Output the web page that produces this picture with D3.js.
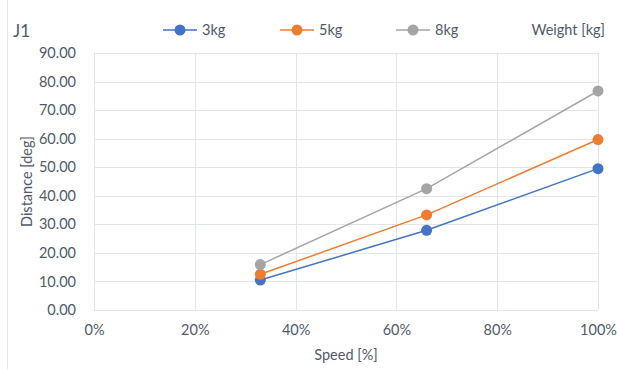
<!DOCTYPE html>
<html>
<head>
<meta charset="utf-8">
<script src="https://cdn.jsdelivr.net/npm/d3@7"></script>
<style>
  html, body { margin: 0; padding: 0; background: #fff; }
  svg { display: block; font-family: Lato, "Open Sans", sans-serif; }
</style>
</head>
<body>
<div id="chart"></div>
<script>
const speeds = [33, 66, 100];
const seriesNames = ['3kg', '5kg', '8kg'];
const kg3 = [10.5, 27.9, 49.5];
const kg5 = [12.5, 33.3, 59.7];
const kg8 = [15.9, 42.5, 76.7];
const seriesColors = ['#4472C4', '#ED7D31', '#A5A5A5'];
const yTicks = [0, 10, 20, 30, 40, 50, 60, 70, 80, 90];
const xTicks = [0, 20, 40, 60, 80, 100];

const series = [kg3, kg5, kg8].map((vals, i) => ({
  name: seriesNames[i], color: seriesColors[i],
  pts: vals.map((v, j) => ({ x: speeds[j], y: v }))
}));

const W = 617, H = 369;
const m = { top: 53, right: 19, bottom: 59, left: 94 };
const TXT = '#4f5a6a', GRID = '#e1e5ec';

const svg = d3.select('#chart').append('svg').attr('width', W).attr('height', H);
const x = d3.scaleLinear().domain([0, 100]).range([m.left, W - m.right]);
const y = d3.scaleLinear().domain([0, 90]).range([H - m.bottom, m.top]);

// outer chart border (left edge visible)
svg.append('line').attr('x1', 7.5).attr('x2', 7.5).attr('y1', 0).attr('y2', H)
  .attr('stroke', '#e3e6ea').attr('stroke-width', 1);

// gridlines
svg.append('g').selectAll('line').data(yTicks).join('line')
  .attr('x1', m.left).attr('x2', W - m.right)
  .attr('y1', d => Math.round(y(d)) + 0.5).attr('y2', d => Math.round(y(d)) + 0.5)
  .attr('stroke', GRID).attr('stroke-width', 1);
svg.append('g').selectAll('line').data(xTicks).join('line')
  .attr('y1', m.top).attr('y2', H - m.bottom)
  .attr('x1', d => Math.round(x(d)) + 0.5).attr('x2', d => Math.round(x(d)) + 0.5)
  .attr('stroke', GRID).attr('stroke-width', 1);

// axes labels
const yAxis = svg.append('g').attr('transform', `translate(${m.left - 15},0)`)
  .call(d3.axisLeft(y).tickValues(yTicks).tickFormat(d3.format('.2f')).tickSize(0));
yAxis.select('.domain').remove();
yAxis.selectAll('text').attr('fill', TXT).attr('font-size', 14.5).attr('font-family', 'Lato, sans-serif');

const xAxis = svg.append('g').attr('transform', `translate(0,${H - m.bottom + 12})`)
  .call(d3.axisBottom(x).tickValues(xTicks).tickFormat(d => d + '%').tickSize(0));
xAxis.select('.domain').remove();
xAxis.selectAll('text').attr('fill', TXT).attr('font-size', 14.5).attr('font-family', 'Lato, sans-serif');

// axis titles
svg.append('text').attr('x', (m.left + W - m.right) / 2).attr('y', 360)
  .attr('text-anchor', 'middle').attr('fill', TXT).attr('font-size', 14.5).text('Speed [%]');
svg.append('text').attr('transform', `translate(32,${(m.top + H - m.bottom) / 2}) rotate(-90)`)
  .attr('text-anchor', 'middle').attr('fill', TXT).attr('font-size', 14.5).text('Distance [deg]');

// lines and markers
const line = d3.line().x(d => x(d.x)).y(d => y(d.y));
const sg = svg.append('g').selectAll('g').data(series).join('g');
sg.append('path').attr('d', d => line(d.pts)).attr('fill', 'none')
  .attr('stroke', d => d.color).attr('stroke-width', 1.5);
sg.selectAll('circle').data(d => d.pts.map(p => ({ ...p, color: d.color }))).join('circle')
  .attr('cx', d => x(d.x)).attr('cy', d => y(d.y)).attr('r', 5.5).attr('fill', d => d.color);

// title
svg.append('text').attr('x', 13).attr('y', 37).attr('fill', TXT).attr('font-size', 17).text('J1');

// legend
const legX = [163, 280, 396];
const lg = svg.append('g').selectAll('g').data(series).join('g')
  .attr('transform', (d, i) => `translate(${legX[i]},30)`);
lg.append('line').attr('x1', 0).attr('x2', 34).attr('stroke', d => d.color).attr('stroke-width', 1.5);
lg.append('circle').attr('cx', 17).attr('r', 5.5).attr('fill', d => d.color);
lg.append('text').attr('x', 39).attr('dy', '0.35em').attr('fill', TXT).attr('font-size', 14.5).text(d => d.name);

svg.append('text').attr('x', 605).attr('y', 30).attr('dy', '0.35em').attr('text-anchor', 'end')
  .attr('fill', TXT).attr('font-size', 14.5).text('Weight [kg]');
</script>
</body>
</html>
